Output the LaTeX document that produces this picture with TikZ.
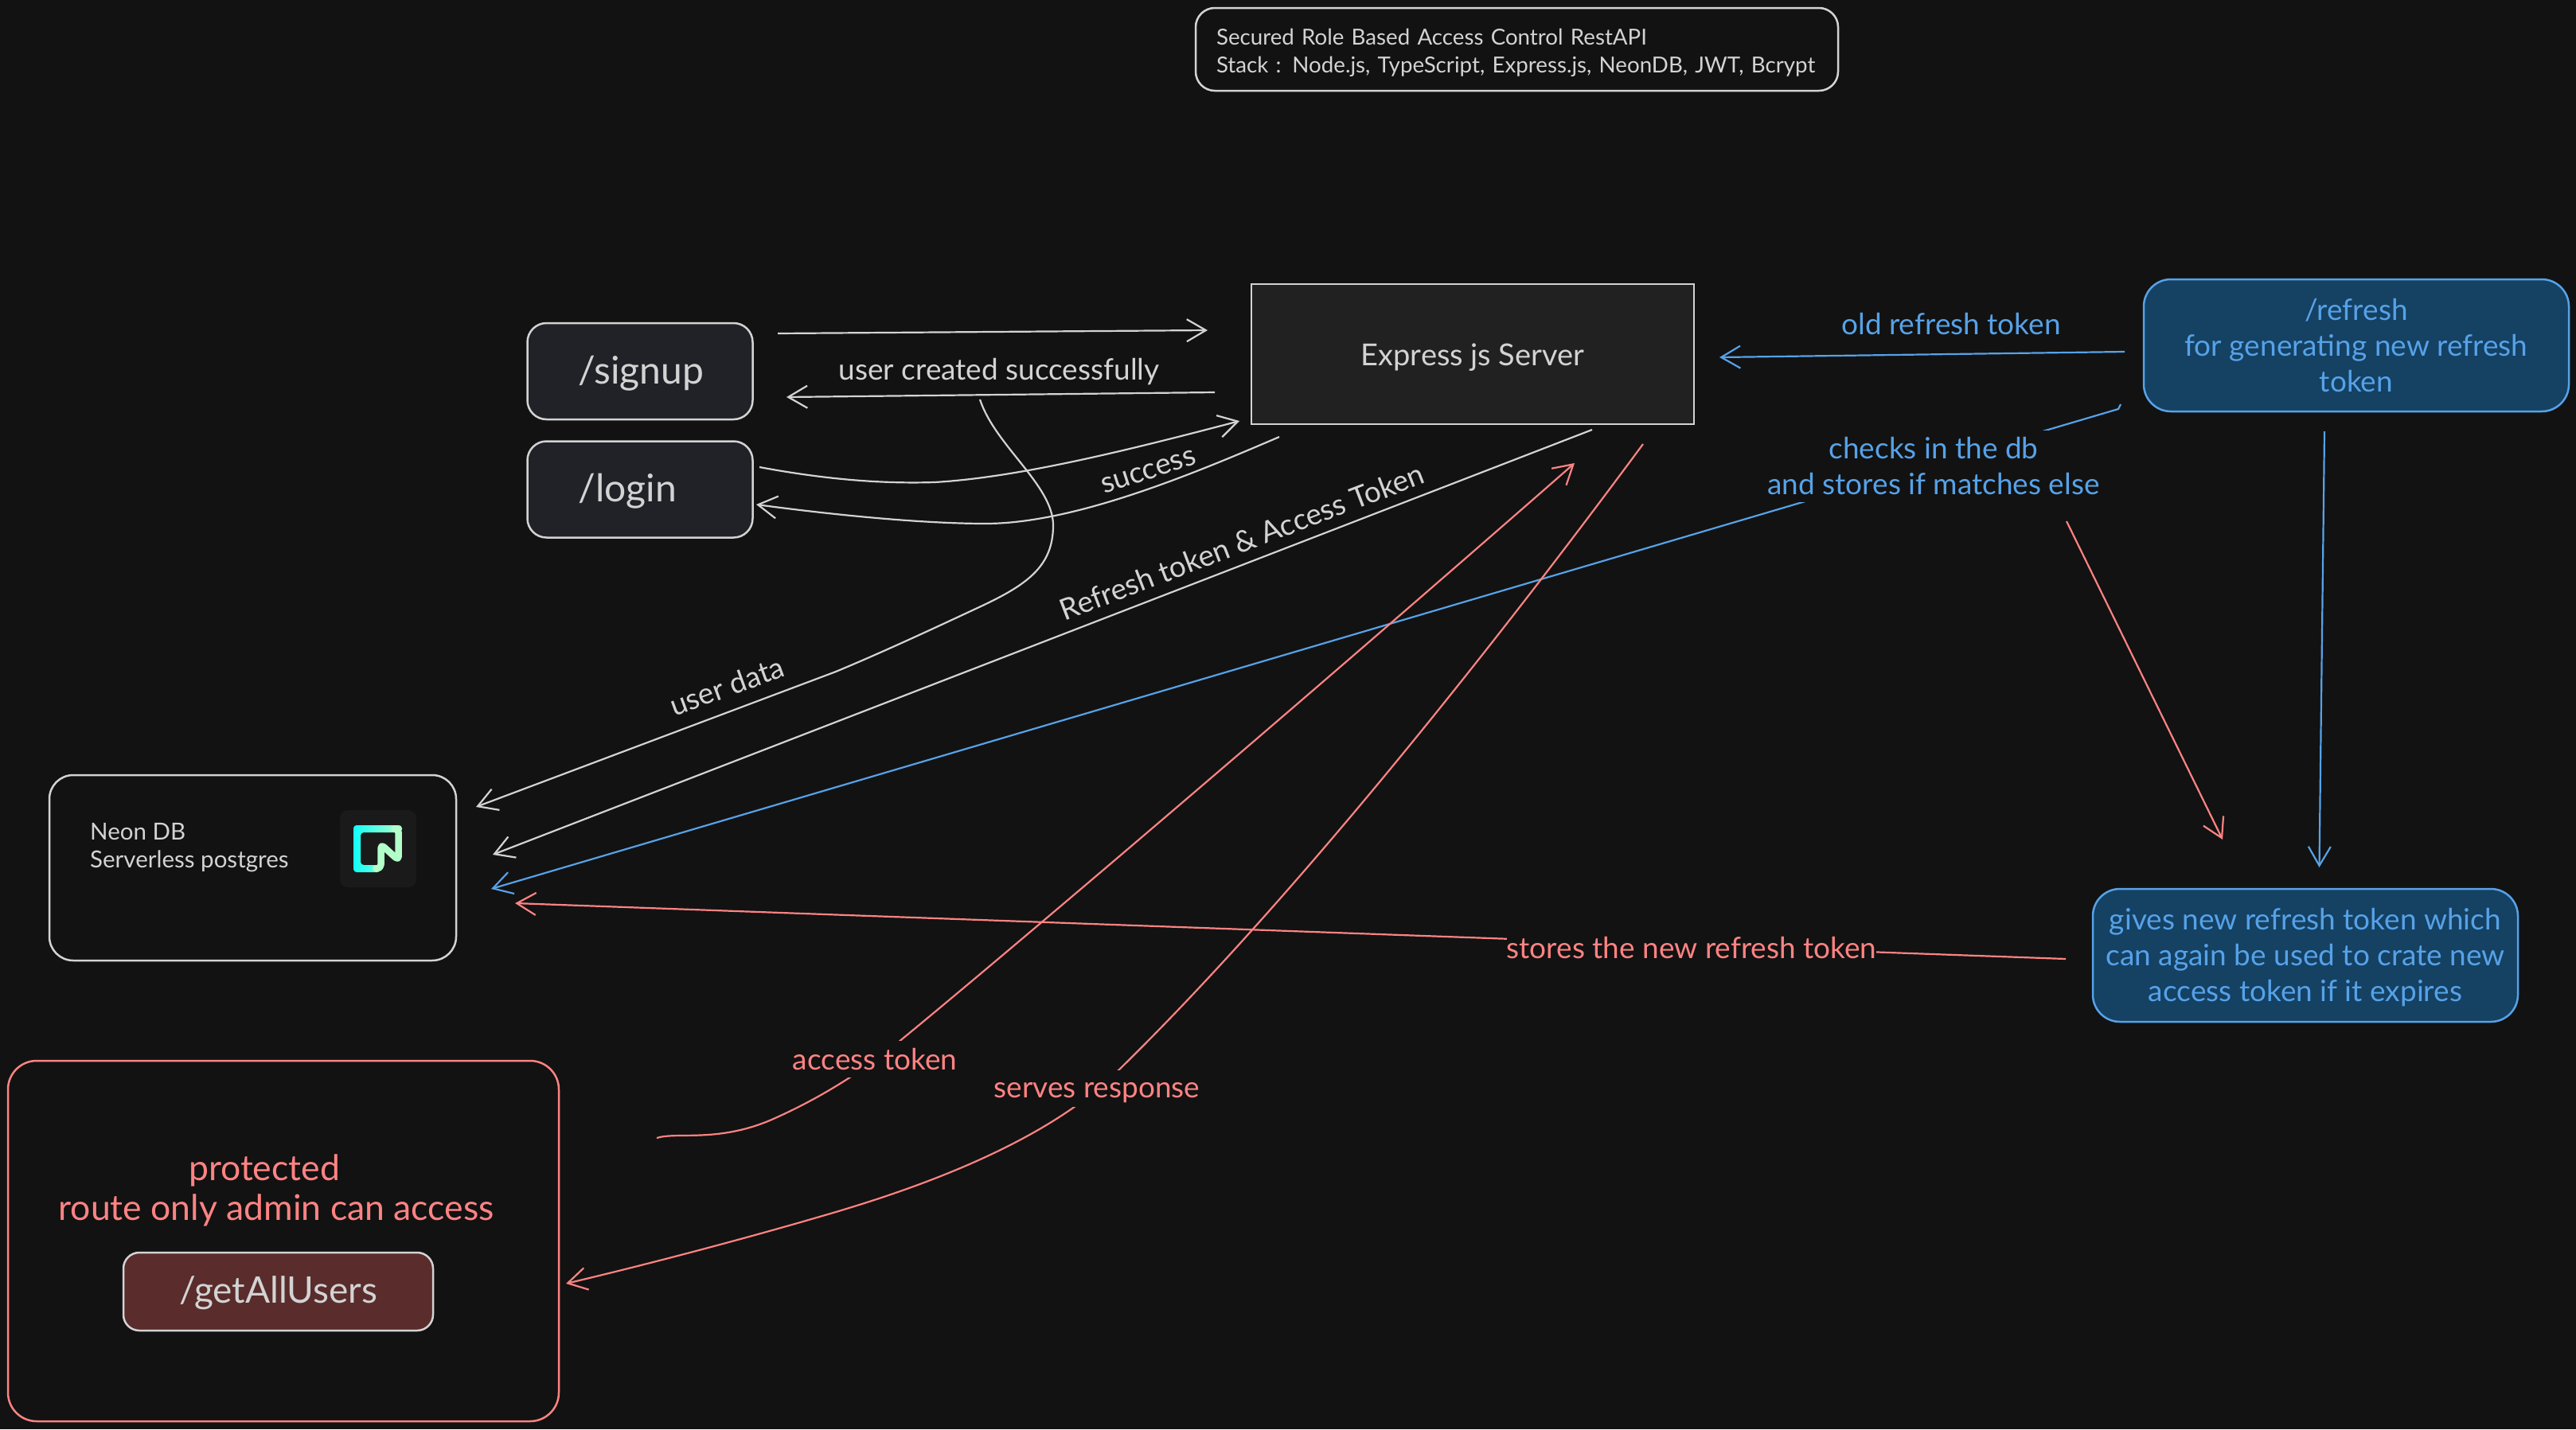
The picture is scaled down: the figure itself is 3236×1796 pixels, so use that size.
\documentclass[tikz,border=0pt]{standalone}
\usepackage{fontspec}
\setmainfont{Lato}
\usepackage{xcolor}
\definecolor{bgdark}{RGB}{18, 18, 18}
\definecolor{linegrey}{RGB}{211, 211, 211}
\definecolor{accentred}{RGB}{255, 131, 131}
\definecolor{accentblue}{RGB}{86, 162, 232}
\definecolor{fillblue}{RGB}{21, 65, 99}
\definecolor{fillred}{RGB}{90, 44, 44}
\definecolor{fillroute}{RGB}{32, 34, 39}
\definecolor{fillserver}{RGB}{33, 33, 33}
\definecolor{logotile}{RGB}{26, 26, 26}
\definecolor{logocyan}{RGB}{18, 255, 247}
\definecolor{logogreen}{RGB}{179, 255, 201}
\usetikzlibrary{arrows.meta, positioning}

\tikzset{
    smalltext/.style={font=\fontsize{27.7}{35}\selectfont},
    midtext/.style={font=\fontsize{37}{45}\selectfont},
    wardtext/.style={font=\fontsize{44.5}{50}\selectfont},
    bigtext/.style={font=\fontsize{48}{60}\selectfont},
    routebox/.style={draw=linegrey, line width=2.5pt, fill=fillroute, rounded corners=24pt, text=linegrey, bigtext, text width=155pt, inner xsep=64pt, minimum height=121pt, align=left},
    bluebox/.style={draw=accentblue, line width=2.5pt, fill=fillblue, rounded corners=34pt, text=accentblue, midtext, align=center},
    greyline/.style={->, draw=linegrey, line width=2.2pt},
    redline/.style={->, draw=accentred, line width=2.2pt},
    blueline/.style={->, draw=accentblue, line width=2.2pt},
    greylabel/.style={text=linegrey, midtext, inner sep=0pt},
    redlabel/.style={text=accentred, midtext, fill=bgdark, inner sep=0pt},
    bluelabel/.style={text=accentblue, midtext, inner sep=0pt}
}

\begin{document}
\begin{tikzpicture}[x=1pt, y=-1pt, >={Straight Barb[length=24pt, width=28pt]}]
    \fill[bgdark] (0,0) rectangle (3236,1796);
    \useasboundingbox (0,0) rectangle (3236,1796);

    \node[draw=linegrey, line width=2.5pt, rounded corners=24pt, text=linegrey, smalltext, text width=755pt, inner xsep=26pt, minimum height=104pt, align=left] (titlebox) at (1905.5,62) {\rule{0pt}{30pt}\mbox{Secured Role Based Access Control RestAPI}\\\mbox{Stack : Node.js, TypeScript, Express.js, NeonDB, JWT, Bcrypt}};
    \node[draw=linegrey, line width=1.5pt, fill=fillserver, text=linegrey, font=\fontsize{38}{45}\selectfont, minimum width=556pt, minimum height=176pt, text height=30pt, text depth=2pt] (server) at (1850,445) {Express js Server};
    \node[routebox] (signup) at (804,466.5) {\rule{0pt}{40pt}/signup};
    \node[routebox] (login) at (804,615) {\rule{0pt}{40pt}/login};
    \node[bluebox, minimum width=534pt, minimum height=166pt] (refresh) at (2960,434) {/refresh\\for generating new refresh\\token};
    \node[bluebox, minimum width=534pt, minimum height=167pt] (newtoken) at (2896,1200.5) {\rule{0pt}{33pt}gives new refresh token which\\can again be used to crate new\\access token if it expires};

    \node[draw=linegrey, line width=2.5pt, rounded corners=30pt, minimum width=511pt, minimum height=233pt] (neondb) at (317.5,1090.5) {};
    \node[anchor=west, text=linegrey, font=\fontsize{29.5}{35}\selectfont, inner sep=0pt, align=left] (neonlabel) at (113,1065) {Neon DB\\Serverless postgres};
    \fill[logotile, rounded corners=10pt] (427,1018) rectangle (523,1115);
    \shade[left color=logocyan, right color=logogreen, rounded corners=4pt] (444,1096) -- (444,1037) -- (505,1037) -- (505,1046) -- (453,1046) -- (453,1087) -- (478,1087) -- (478,1096) -- cycle;
    \draw[logogreen, line width=8.5pt, line cap=round, line join=round, rounded corners=5pt] (472,1091.5) -- (478.5,1091.5) -- (478.5,1061) -- (500.7,1081) -- (500.7,1041.5) -- (496,1041.5);

    \node[draw=accentred, line width=2.5pt, rounded corners=36pt, minimum width=692pt, minimum height=453pt] (admin) at (356,1559.5) {};
    \node[text=accentred, wardtext, inner sep=0pt, align=center] (adminlabel) at (347,1496) {protected\hspace*{30pt}\\route only admin can access};
    \node[draw=linegrey, line width=2.5pt, fill=fillred, rounded corners=20pt, text=linegrey, font=\fontsize{46}{55}\selectfont, minimum width=389pt, minimum height=98pt] (getusers) at (349.5,1623) {\rule{0pt}{38pt}/getAllUsers};

    \coordinate (signupout) at (977,419);
    \coordinate (serverin) at (1517,415);
    \coordinate (serverout) at (1526,493);
    \coordinate (signupin) at (988,499);
    \coordinate (loginout) at (954,587);
    \coordinate (logintip) at (1557,529);
    \coordinate (successout) at (1607,549);
    \coordinate (loginin) at (950,634);
    \coordinate (dataout) at (1231,502);
    \coordinate (datain) at (598,1014);
    \coordinate (tokenout) at (2000,540);
    \coordinate (tokenin) at (619,1074);
    \coordinate (checkout) at (2664,508);
    \coordinate (checkin) at (617,1117);
    \coordinate (storeout) at (2595,1205);
    \coordinate (storein) at (647,1135);
    \coordinate (accessout) at (825,1430);
    \coordinate (accessin) at (1978,582);
    \coordinate (serveout) at (2064,558);
    \coordinate (servein) at (711,1613);
    \coordinate (oldout) at (2669,442);
    \coordinate (oldin) at (2160,449);
    \coordinate (downout) at (2920,542);
    \coordinate (downin) at (2913.5,1090);
    \coordinate (elseout) at (2596,655);
    \coordinate (elsein) at (2792,1055);

    \draw[greyline] (signupout) -- (serverin);
    \draw[greyline] (serverout) -- (signupin);
    \draw[greyline] (loginout) .. controls (1040,603) and (1110,608) .. (1174,606) .. controls (1280,600) and (1420,565) .. (logintip);
    \draw[greyline] (successout) .. controls (1500,595) and (1350,658) .. (1238,658) .. controls (1170,658) and (1070,650) .. (loginin);
    \draw[greyline] (dataout) .. controls (1250,560) and (1323,610) .. (1323,660) .. controls (1323,712) and (1290,735) .. (1230,763) .. controls (1170,791) and (1110,819) .. (1050,844) -- (datain);
    \draw[greyline] (tokenout) -- (tokenin);
    \draw[blueline] (checkout) -- (2661,514) -- (checkin);
    \draw[redline] (storeout) -- (storein);
    \draw[redline] (accessout) .. controls (850,1422) and (900,1436) .. (967,1408) .. controls (1020,1385) and (1075,1353) .. (1128,1310) .. controls (1250,1210) and (1600,913) .. (accessin);
    \draw[redline] (serveout) .. controls (1900,780) and (1640,1115) .. (1405,1345) .. controls (1310,1440) and (1140,1497) .. (1033,1528) .. controls (920,1561) and (800,1592) .. (servein);
    \draw[blueline] (oldout) -- (oldin);
    \draw[blueline] (downout) -- (downin);
    \draw[redline] (elseout) -- (elsein);

    \node[greylabel] (createdlabel) at (1255,467) {user created successfully};
    \node[greylabel, rotate=18] (successlabel) at (1443,593) {success};
    \node[greylabel, rotate=20] (datalabel) at (913,862) {user data};
    \node[greylabel, rotate=21] (tokenlabel) at (1560,681) {Refresh token \& Access Token};
    \node[bluelabel] (oldlabel) at (2451,407) {old refresh token};
    \node[bluelabel, fill=bgdark, inner xsep=10pt, inner ysep=9pt, align=center] (checklabel) at (2429,586) {checks in the db\\and stores if matches else};
    \node[redlabel] (storelabel) at (2125,1191) {stores the new refresh token};
    \node[redlabel, minimum height=46pt] (accesslabel) at (1099,1331) {access token};
    \node[redlabel, minimum height=46pt, text height=27pt, text depth=5pt] (servelabel) at (1378,1368) {serves response};
\end{tikzpicture}
\end{document}
